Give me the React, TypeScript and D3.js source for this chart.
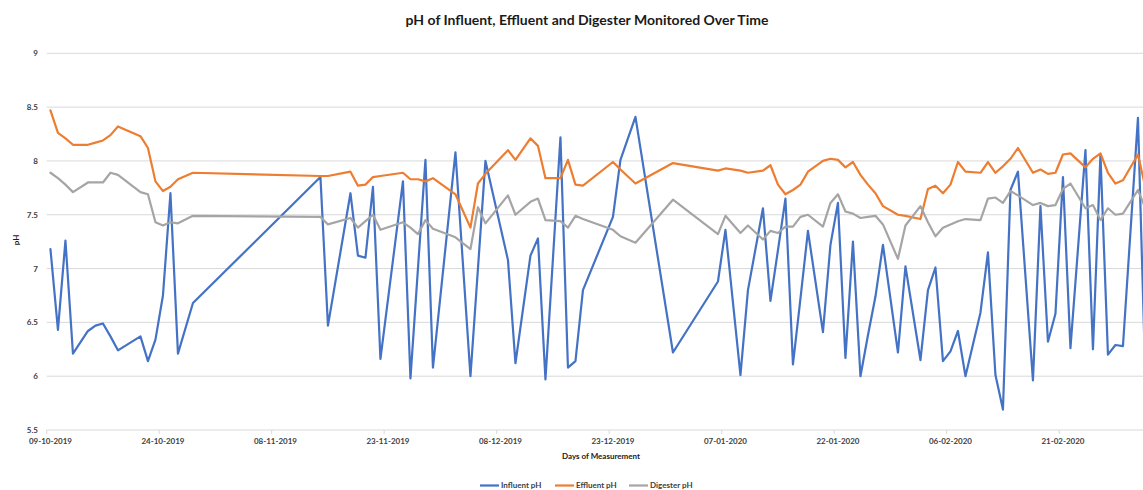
import React from "react";
import * as d3 from "d3";

const dates: string[] = [
  "2019-10-09","2019-10-10","2019-10-11","2019-10-12","2019-10-14","2019-10-15","2019-10-16","2019-10-17","2019-10-18",
  "2019-10-21","2019-10-22","2019-10-23","2019-10-24","2019-10-25","2019-10-26","2019-10-28",
  "2019-11-14","2019-11-15","2019-11-18","2019-11-19","2019-11-20","2019-11-21","2019-11-22","2019-11-25","2019-11-26",
  "2019-11-27","2019-11-28","2019-11-29","2019-12-02","2019-12-04","2019-12-05","2019-12-06","2019-12-09","2019-12-10",
  "2019-12-12","2019-12-13","2019-12-14","2019-12-16","2019-12-17","2019-12-18","2019-12-19","2019-12-23","2019-12-24",
  "2019-12-26","2019-12-31","2020-01-06","2020-01-07","2020-01-09","2020-01-10","2020-01-12","2020-01-13","2020-01-14",
  "2020-01-15","2020-01-16","2020-01-17","2020-01-18","2020-01-20","2020-01-21","2020-01-22","2020-01-23","2020-01-24",
  "2020-01-25","2020-01-26","2020-01-27","2020-01-28","2020-01-30","2020-01-31","2020-02-02","2020-02-03","2020-02-04",
  "2020-02-05","2020-02-06","2020-02-07","2020-02-08","2020-02-10","2020-02-11","2020-02-12","2020-02-13","2020-02-14",
  "2020-02-15","2020-02-17","2020-02-18","2020-02-19","2020-02-20","2020-02-21","2020-02-22","2020-02-24","2020-02-25",
  "2020-02-26","2020-02-27","2020-02-28","2020-02-29","2020-03-02","2020-03-03"
];

const influentPH: number[] = [
  7.18,6.43,7.26,6.21,6.42,6.47,6.49,6.37,6.24,
  6.37,6.14,6.34,6.75,7.70,6.21,6.68,
  7.85,6.47,7.70,7.12,7.10,7.76,6.16,7.81,5.98,
  7.00,8.01,6.08,8.08,6.00,7.00,8.00,7.08,6.12,
  7.12,7.28,5.97,8.22,6.08,6.14,6.80,7.48,8.01,
  8.41,6.22,6.88,7.36,6.01,6.80,7.56,6.70,7.17,
  7.65,6.11,6.72,7.35,6.41,7.22,7.61,6.17,7.25,
  6.00,6.38,6.74,7.22,6.22,7.02,6.15,6.80,7.01,
  6.14,6.23,6.42,6.00,6.59,7.15,6.01,5.69,7.73,
  7.90,5.96,7.58,6.32,6.58,7.85,6.26,8.10,6.25,
  8.06,6.20,6.29,6.28,8.40,5.95
];

const effluentPH: number[] = [
  8.47,8.26,8.21,8.15,8.15,8.17,8.19,8.24,8.32,
  8.23,8.12,7.81,7.72,7.76,7.83,7.89,
  7.86,7.86,7.90,7.77,7.78,7.85,7.86,7.89,7.83,
  7.83,7.81,7.84,7.69,7.38,7.79,7.88,8.10,8.01,
  8.21,8.14,7.84,7.84,8.01,7.78,7.77,7.99,7.92,
  7.79,7.98,7.91,7.93,7.91,7.89,7.91,7.96,7.78,
  7.69,7.73,7.78,7.90,8.00,8.02,8.01,7.94,7.99,
  7.87,7.78,7.70,7.58,7.50,7.49,7.46,7.74,7.77,
  7.70,7.78,7.99,7.90,7.89,7.99,7.89,7.95,8.02,
  8.12,7.89,7.92,7.88,7.89,8.06,8.07,7.94,8.02,
  8.07,7.89,7.79,7.82,8.06,7.75
];

const digesterPH: number[] = [
  7.89,7.84,7.78,7.71,7.80,7.80,7.80,7.89,7.87,
  7.71,7.69,7.43,7.40,7.43,7.42,7.49,
  7.48,7.41,7.47,7.38,7.44,7.50,7.36,7.43,7.38,
  7.32,7.45,7.37,7.29,7.18,7.57,7.42,7.68,7.50,
  7.62,7.65,7.45,7.44,7.38,7.49,7.46,7.36,7.30,
  7.24,7.64,7.32,7.49,7.33,7.40,7.27,7.35,7.33,
  7.39,7.39,7.48,7.50,7.39,7.61,7.69,7.53,7.51,
  7.47,7.48,7.49,7.41,7.09,7.40,7.58,7.43,7.30,
  7.38,7.41,7.44,7.46,7.45,7.65,7.66,7.61,7.72,
  7.68,7.59,7.61,7.58,7.59,7.74,7.79,7.56,7.59,
  7.45,7.56,7.50,7.51,7.73,7.56
];

const yTicks: number[] = [5.5, 6, 6.5, 7, 7.5, 8, 8.5, 9];
const seriesNames: string[] = ["Influent pH", "Effluent pH", "Digester pH"];
const seriesColors: string[] = ["#4472C4", "#ED7D31", "#A5A5A5"];

const W = 1143;
const H = 490;
const FONT = "Lato, 'Open Sans', sans-serif";

export default function App() {
  const parse = d3.utcParse("%Y-%m-%d");
  const start = parse("2019-10-09") as Date;
  const end = d3.utcDay.offset(start, 149);
  const x = d3.scaleUtc().domain([start, end]).range([46.7, 46.7 + 149 * 7.5]);
  const y = d3.scaleLinear().domain([5.5, 9]).range([430, 53.3]);
  const halfDay = (d: Date) => d3.utcHour.offset(d, 12);
  const parsed = dates.map((s) => parse(s) as Date);
  const allSeries = [influentPH, effluentPH, digesterPH];
  const line = d3
    .line<[Date, number]>()
    .x((d) => x(halfDay(d[0])))
    .y((d) => y(d[1]));
  const xTicks = d3.range(0, 10).map((i) => d3.utcDay.offset(start, 15 * i));
  const fmt = d3.utcFormat("%d-%m-%Y");
  const legendX = [480, 555, 629];

  return (
    <svg width={W} height={H} style={{ display: "block", position: "absolute", left: 0, top: 0, background: "#fff" }} fontFamily={FONT}>
      <rect x={0} y={0} width={W} height={H} fill="#fff" />
      <text x={587} y={25} textAnchor="middle" fontSize={14} fontWeight={700} fill="#1a1a1a">
        pH of Influent, Effluent and Digester Monitored Over Time
      </text>
      {yTicks.map((t) => (
        <g key={t}>
          <line x1={46.7} x2={W} y1={y(t)} y2={y(t)} stroke="#d9d9d9" strokeWidth={1} />
          <text x={38} y={y(t) + 3} textAnchor="end" fontSize={8} fontWeight={700} fill="#404040">
            {t}
          </text>
        </g>
      ))}
      {xTicks.map((t, i) => (
        <g key={i}>
          <line x1={x(t)} x2={x(t)} y1={430} y2={434} stroke="#d9d9d9" strokeWidth={1} />
          <text x={x(halfDay(t))} y={444} textAnchor="middle" fontSize={8} fontWeight={700} fill="#404040">
            {fmt(t)}
          </text>
        </g>
      ))}
      <text x={601} y={459} textAnchor="middle" fontSize={8} fontWeight={700} fill="#1a1a1a">
        Days of Measurement
      </text>
      <text transform={`translate(19,240) rotate(-90)`} textAnchor="middle" fontSize={8} fontWeight={700} fill="#1a1a1a">
        pH
      </text>
      {allSeries.map((vals, si) => (
        <path
          key={si}
          d={line(parsed.map((d, i) => [d, vals[i]] as [Date, number])) || ""}
          fill="none"
          stroke={seriesColors[si]}
          strokeWidth={2.2}
          strokeLinejoin="round"
          strokeLinecap="round"
        />
      ))}
      {seriesNames.map((n, i) => (
        <g key={n}>
          <line x1={legendX[i]} x2={legendX[i] + 19} y1={485.5} y2={485.5} stroke={seriesColors[i]} strokeWidth={2.2} />
          <text x={legendX[i] + 21} y={488} fontSize={8} fontWeight={700} fill="#404040">
            {n}
          </text>
        </g>
      ))}
    </svg>
  );
}
